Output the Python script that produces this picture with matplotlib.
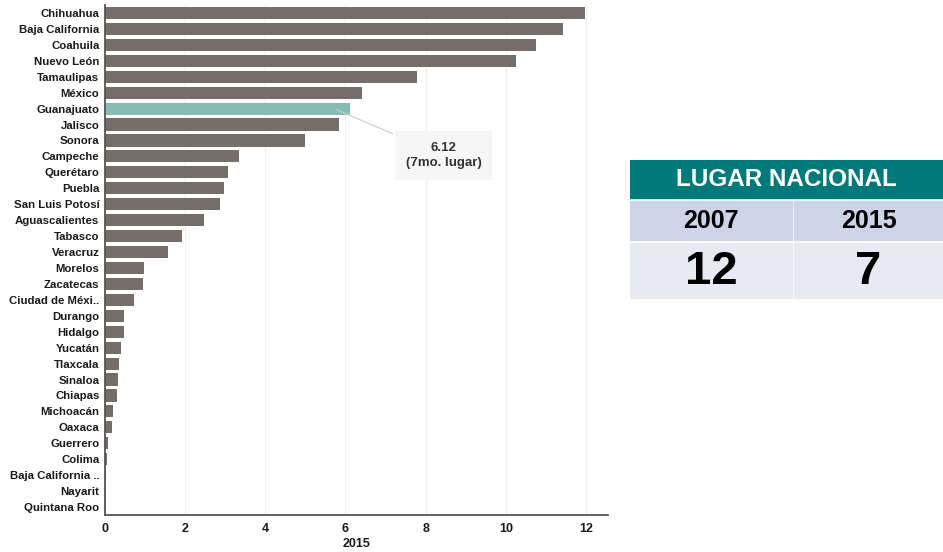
import matplotlib
matplotlib.use("Agg")
import matplotlib.pyplot as plt
from matplotlib.patches import Rectangle

plt.rcParams["font.family"] = ["Liberation Sans", "DejaVu Sans"]

states = [
    "Chihuahua", "Baja California", "Coahuila", "Nuevo León", "Tamaulipas",
    "México", "Guanajuato", "Jalisco", "Sonora", "Campeche", "Querétaro",
    "Puebla", "San Luis Potosí", "Aguascalientes", "Tabasco", "Veracruz",
    "Morelos", "Zacatecas", "Ciudad de Méxi..", "Durango", "Hidalgo",
    "Yucatán", "Tlaxcala", "Sinaloa", "Chiapas", "Michoacán", "Oaxaca",
    "Guerrero", "Colima", "Baja California ..", "Nayarit", "Quintana Roo",
]
values_2015 = [
    11.97, 11.42, 10.75, 10.25, 7.78, 6.42, 6.12, 5.84, 5.00, 3.35, 3.08,
    2.98, 2.87, 2.48, 1.93, 1.58, 0.98, 0.96, 0.72, 0.48, 0.48,
    0.40, 0.34, 0.32, 0.29, 0.20, 0.17, 0.07, 0.05, 0.02, 0.005, 0.0,
]
highlight = "Guanajuato"
highlight_label = "6.12\n(7mo. lugar)"
x_ticks = [0, 2, 4, 6, 8, 10, 12]
x_title = "2015"

table_title = "LUGAR NACIONAL"
table_years = ["2007", "2015"]
table_ranks = [12, 7]

BAR = "#766d6a"
HILITE = "#86bdb3"
TEAL = "#00797b"
ROW1 = "#cdd4e8"
ROW2 = "#e7e9f4"

W, H = 943, 552
fig = plt.figure(figsize=(W / 100, H / 100), dpi=100)
fig.patch.set_facecolor("white")

# bar chart
ax = fig.add_axes([105 / W, 1 - 515 / H, (608 - 105) / W, (515 - 5) / H])
ypos = list(range(len(states)))
colors = [HILITE if s == highlight else BAR for s in states]
ax.barh(ypos, values_2015, height=0.76, color=colors, zorder=2)
ax.set_ylim(len(states) - 0.5, -0.5)
ax.set_xlim(0, 12.55)
ax.set_yticks(ypos)
ax.set_yticklabels(states, fontsize=8.2, fontweight="bold", color="#1a1a1a")
ax.set_xticks(x_ticks)
ax.set_xticklabels([str(t) for t in x_ticks], fontsize=9, fontweight="bold",
                   color="#1a1a1a")
ax.tick_params(axis="y", length=0, pad=4)
ax.tick_params(axis="x", length=0, pad=6)
ax.set_xlabel(x_title, fontsize=9, fontweight="bold", color="#1a1a1a",
              labelpad=2)
ax.grid(axis="x", color="#eeeeee", lw=0.8, zorder=0)
for side in ["top", "right"]:
    ax.spines[side].set_visible(False)
for side in ["left", "bottom"]:
    ax.spines[side].set_color("#555555")
    ax.spines[side].set_linewidth(1.3)

hi = states.index(highlight)
ax.annotate(
    highlight_label,
    xy=(values_2015[hi] - 0.4, hi), xytext=(8.45, hi + 2.95),
    ha="center", va="center", fontsize=9.5, fontweight="bold", color="#333333",
    linespacing=1.4,
    bbox=dict(boxstyle="square,pad=0.8", fc="#f6f6f6", ec="none"),
    arrowprops=dict(arrowstyle="-", color="#cccccc", lw=0.8),
    zorder=5,
)

# national ranking table
tx = fig.add_axes([630 / W, 1 - 299 / H, (943 - 630) / W, (299 - 160) / H])
tx.set_xlim(0, 313)
tx.set_ylim(139, 0)
tx.axis("off")
tx.add_patch(Rectangle((0, 0), 313, 38, color=TEAL))
tx.text(156.5, 20, table_title, ha="center", va="center", color="white",
        fontsize=17.5, fontweight="bold")
col_w = [(0, 162), (164, 149)]
for (x0, w), year, rank in zip(col_w, table_years, table_ranks):
    tx.add_patch(Rectangle((x0, 41), w, 39, color=ROW1))
    tx.add_patch(Rectangle((x0, 83), w, 56, color=ROW2))
    tx.text(x0 + w / 2, 61, year, ha="center", va="center", color="black",
            fontsize=18, fontweight="bold")
    tx.text(x0 + w / 2, 112, str(rank), ha="center", va="center",
            color="black", fontsize=34, fontweight="bold")

fig.savefig("out.png", dpi=100)
